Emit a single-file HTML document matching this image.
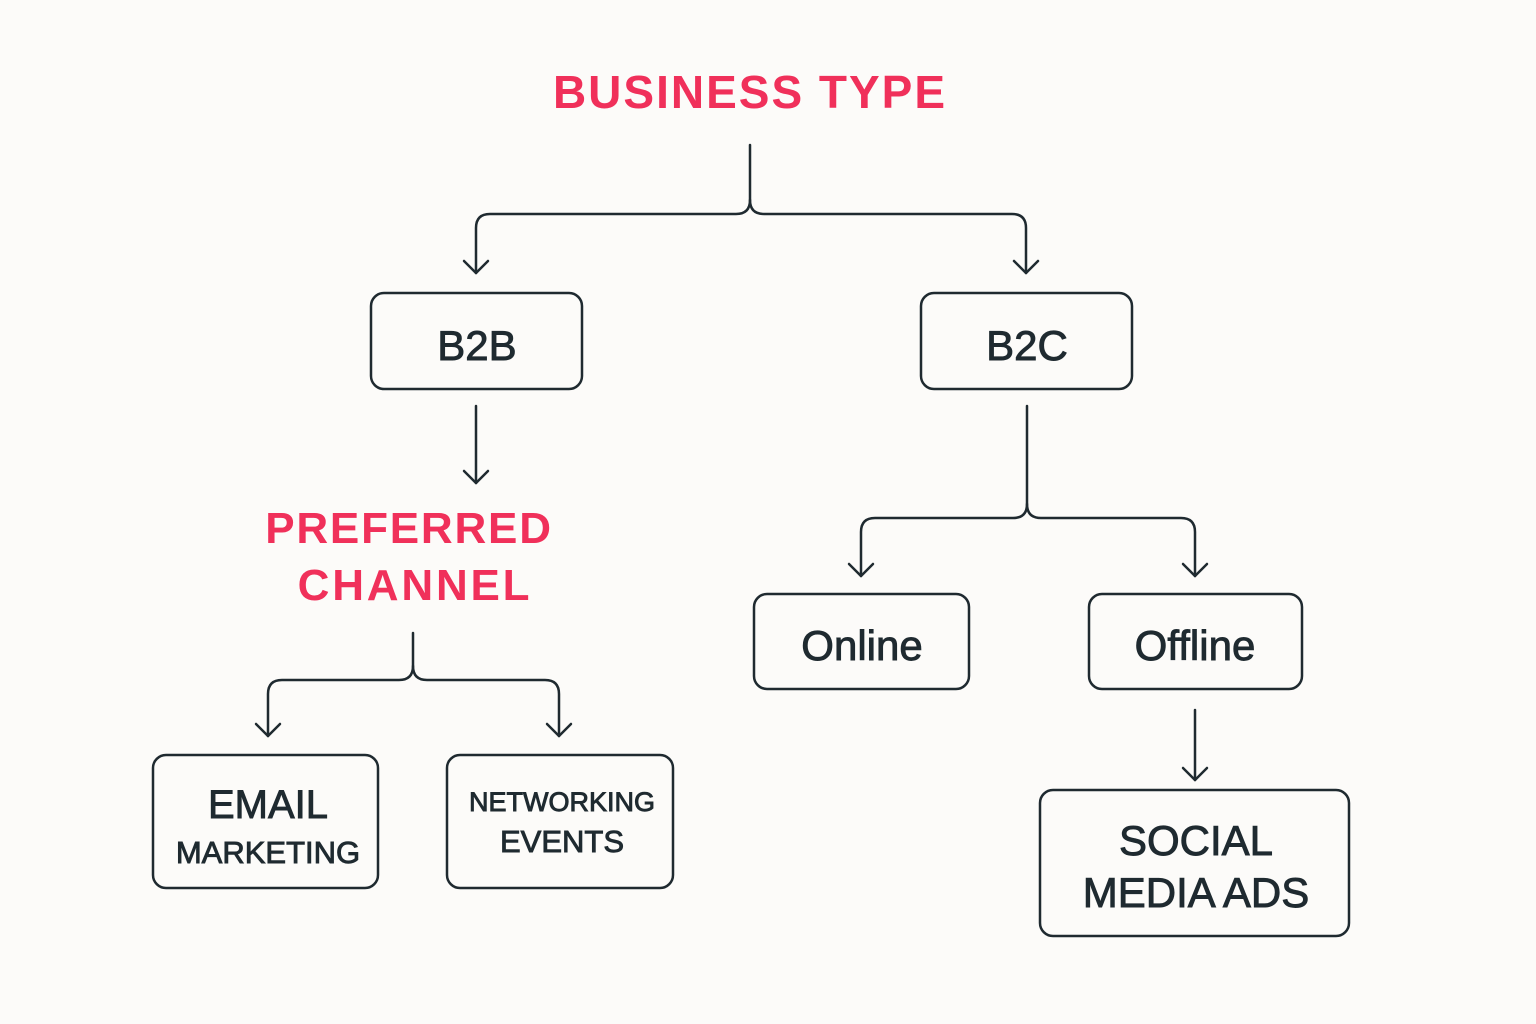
<!DOCTYPE html>
<html><head><meta charset="utf-8"><style>
html,body{margin:0;padding:0;background:#fcfbf9;}
svg{display:block}
text{font-family:"Liberation Sans","DejaVu Sans",sans-serif;}
</style></head><body>
<svg width="1536" height="1024" viewBox="0 0 1536 1024" xmlns="http://www.w3.org/2000/svg">
<rect width="1536" height="1024" fill="#fcfbf9"/>
<g fill="none" stroke="#1f2a30" stroke-width="2.5" stroke-linecap="round" stroke-linejoin="round">
<path d="M750 145 V200 Q750 214 736 214 H490 Q476 214 476 228 V273"/>
<path d="M750 200 Q750 214 764 214 H1012 Q1026 214 1026 228 V273"/>
<path d="M464 261 L476 273 L488 261"/>
<path d="M1014 261 L1026 273 L1038 261"/>
<rect x="371" y="293" width="211" height="96" rx="13"/>
<rect x="921" y="293" width="211" height="96" rx="13"/>
<path d="M476 406 V483"/><path d="M464 471 L476 483 L488 471"/>
<path d="M413 633 V666 Q413 680 399 680 H282 Q268 680 268 694 V736"/>
<path d="M413 666 Q413 680 427 680 H545 Q559 680 559 694 V736"/>
<path d="M256 724 L268 736 L280 724"/>
<path d="M547 724 L559 736 L571 724"/>
<rect x="153" y="755" width="225" height="133" rx="13"/>
<rect x="447" y="755" width="226" height="133" rx="13"/>
<path d="M1027 406 V504 Q1027 518 1013 518 H875 Q861 518 861 532 V576"/>
<path d="M1027 504 Q1027 518 1041 518 H1181 Q1195 518 1195 532 V576"/>
<path d="M849 564 L861 576 L873 564"/>
<path d="M1183 564 L1195 576 L1207 564"/>
<rect x="754" y="594" width="215" height="95" rx="13"/>
<rect x="1089" y="594" width="213" height="95" rx="13"/>
<path d="M1195 710 V780"/><path d="M1183 768 L1195 780 L1207 768"/>
<rect x="1040" y="790" width="309" height="146" rx="13"/>
</g>
<g fill="#f0305a" font-weight="bold" text-anchor="middle">
<text x="750" y="108" font-size="46" letter-spacing="2">BUSINESS TYPE</text>
<text x="409" y="543" font-size="44" letter-spacing="1.8">PREFERRED</text>
<text x="415" y="600" font-size="44" letter-spacing="2.8">CHANNEL</text>
</g>
<g fill="#1f2a30" stroke="#1f2a30" stroke-width="0.9" text-anchor="middle">
<text x="477" y="360" font-size="42">B2B</text>
<text x="1027" y="360" font-size="42">B2C</text>
<text x="268" y="818" font-size="40">EMAIL</text>
<text x="268" y="863" font-size="31">MARKETING</text>
<text x="562" y="811" font-size="27">NETWORKING</text>
<text x="562" y="852" font-size="31">EVENTS</text>
<text x="862" y="660" font-size="42">Online</text>
<text x="1195" y="660" font-size="42">Offline</text>
<text x="1196" y="855" font-size="42">SOCIAL</text>
<text x="1196" y="907" font-size="42">MEDIA ADS</text>
</g>
</svg>
</body></html>
